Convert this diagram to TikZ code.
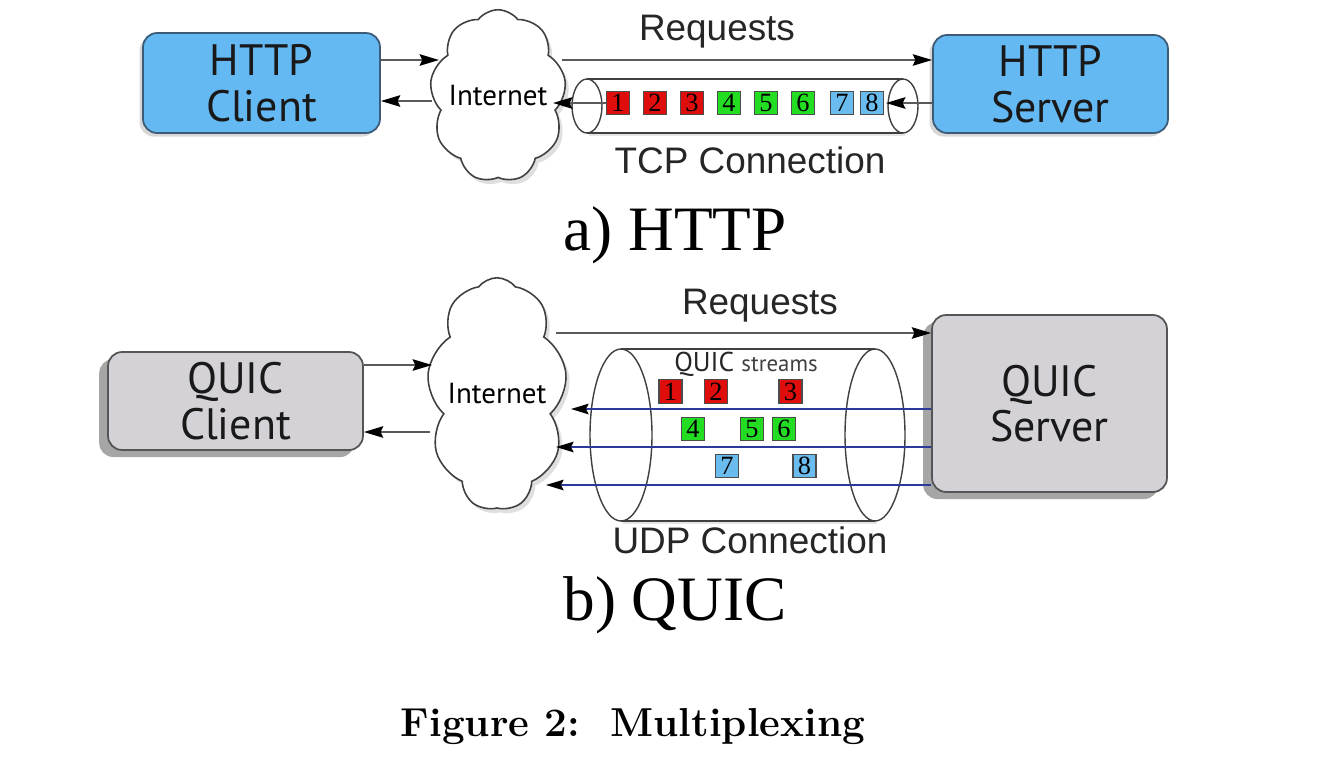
\documentclass[tikz,border=0pt]{standalone}
\usepackage{fontspec}
\usetikzlibrary{shapes.symbols,shapes.geometric,shadows,arrows.meta,calc}
\newfontfamily\boxfont{PT Sans}
\newfontfamily\helv{Liberation Sans}
\newfontfamily\timesf{Liberation Serif}
\definecolor{httpblue}{HTML}{64B9F2}
\definecolor{httpedge}{HTML}{3C5B78}
\definecolor{quicgray}{HTML}{D4D2D7}
\definecolor{quicedge}{HTML}{555555}
\definecolor{pred}{HTML}{E00D0D}
\definecolor{pgreen}{HTML}{22DD22}
\definecolor{pblue}{HTML}{6ABCEF}
\definecolor{streamblue}{HTML}{2A3A9A}
\definecolor{linegray}{HTML}{5A5A5A}
\begin{document}
\begin{tikzpicture}[x=0.02cm,y=-0.02cm,
  boxtext/.style={font=\boxfont\fontsize{25}{26}\selectfont, align=center, text=black!90},
  httpbox/.style={boxtext, draw=httpedge, line width=1pt, fill=httpblue, rounded corners=8pt,
    drop shadow={shadow xshift=-2pt, shadow yshift=-2pt, opacity=0.3}},
  quicbox/.style={boxtext, draw=quicedge, line width=1pt, fill=quicgray, rounded corners=8pt,
    drop shadow={shadow xshift=-5pt, shadow yshift=-4pt, fill=black!35, opacity=1}},
  cloudnode/.style={cloud, cloud puffs=9, cloud puff arc=105, cloud ignores aspect, draw=black!75, line width=0.9pt,
    fill=white, inner sep=0pt, font=\boxfont\fontsize{16.5}{16.5}\selectfont,
    drop shadow={shadow xshift=2pt, shadow yshift=-2.5pt, opacity=0.25}},
  tube/.style={ellipse, draw=black!75, line width=0.8pt, fill=white, inner sep=0pt},
  arr/.style={draw=linegray, line width=1.2pt, -{Stealth[length=11pt, width=6.5pt, inset=1.5pt, color=black]}},
  sarr/.style={draw=streamblue, line width=1pt, -{Stealth[length=10pt, width=6pt, inset=1.5pt, color=black]}},
  lbl/.style={font=\helv\fontsize{21}{21}\selectfont, text=black!85},
  captext/.style={font=\timesf\fontsize{36}{36}\selectfont},
  packet/.style={draw=black!70, line width=0.6pt, minimum width=0.46cm, minimum height=0.47cm,
    inner sep=0pt, font=\timesf\fontsize{15}{15}\selectfont},
  pr/.style={packet, fill=pred},
  pg/.style={packet, fill=pgreen},
  pb/.style={packet, fill=pblue}]
\useasboundingbox[fill=white] (0,0) rectangle (1332,778);

% ---------- a) HTTP ----------
\node[httpbox, minimum width=4.74cm, minimum height=2.0cm] (hc) at (261.5,83) {HTTP\\Client};
\node[httpbox, minimum width=4.7cm, minimum height=1.96cm] (hs) at (1050.5,84) {HTTP\\Server};
\node[cloudnode, minimum width=2.7cm, minimum height=3.45cm] (ca) at (498,96) {Internet};

% TCP tube
\fill[white, drop shadow={shadow xshift=1pt, shadow yshift=-1.5pt, opacity=0.2}] (587,79) rectangle (903,133);
\draw[draw=black!75, line width=0.8pt] (587,79) -- (903,79) (587,133) -- (903,133);
\node[tube, minimum width=0.6cm, minimum height=1.08cm] (tl) at (587,106) {};
\node[tube, minimum width=0.6cm, minimum height=1.08cm] (tr) at (903,106) {};
\node[lbl] (tcp) at (750,160) {TCP Connection};

\node[pr] (t1) at (618,103) {1};
\node[pr] (t2) at (655,103) {2};
\node[pr] (t3) at (692,103) {3};
\node[pg] (t4) at (729,103) {4};
\node[pg] (t5) at (766,103) {5};
\node[pg] (t6) at (803,103) {6};
\node[pb] (t7) at (842,103) {7};
\node[pb] (t8) at (872,103) {8};

\coordinate (ya) at (0,60);
\coordinate (yb) at (0,101);
\coordinate (cain) at (439,60);
\coordinate (caout) at (432,101);
\coordinate (careq) at (562,60);
\coordinate (catcp) at (553,103);
\coordinate (tcpend) at (886,103);
\draw[arr] (hc.east |- ya) -- (cain);
\draw[arr] (caout) -- (hc.east |- yb);
\draw[arr] (careq) -- (hs.west |- ya);
\node[lbl] (reqa) at (717,32) {Requests};
\draw[arr] (hs.west |- t8) -- (tcpend);
\draw[arr] (t1.west) -- (catcp);

\node[captext] (capa) at (675,235) {a) HTTP};

% ---------- b) QUIC ----------
\node[quicbox, minimum width=5.1cm, minimum height=1.96cm] (qc) at (235.5,401) {QUIC\\Client};
\node[quicbox, minimum width=4.7cm, minimum height=3.54cm] (qs) at (1049.5,403.5) {QUIC\\Server};
\node[cloudnode, minimum width=2.8cm, minimum height=4.65cm] (cb) at (497,394) {Internet};

% UDP tube
\fill[white, drop shadow={shadow xshift=1pt, shadow yshift=-1.5pt, opacity=0.2}] (621,349) rectangle (875,521);
\draw[draw=black!75, line width=0.8pt] (621,349) -- (875,349) (621,521) -- (875,521);
\node[tube, minimum width=1.24cm, minimum height=3.44cm] (ul) at (621,435) {};
\node[tube, minimum width=1.2cm, minimum height=3.44cm] (ur) at (875,435) {};
\node[lbl] (udp) at (750,540) {UDP Connection};
\node[font=\boxfont\fontsize{15.5}{15.5}\selectfont, text=black!85] (qstr) at (746,364)
  {QUIC {\fontsize{13}{13}\selectfont\color{black!75}streams}};

\node[pr] (q1) at (670.5,391.5) {1};
\node[pr] (q2) at (716,391.5) {2};
\node[pr] (q3) at (790.5,391.5) {3};
\node[pg] (q4) at (693,429) {4};
\node[pg] (q5) at (752,429) {5};
\node[pg] (q6) at (784,429) {6};
\node[pb] (q7) at (727,466) {7};
\node[pb] (q8) at (804.5,466) {8};

\coordinate (yc) at (0,365);
\coordinate (yd) at (0,432);
\coordinate (ye) at (0,333);
\coordinate (cbin) at (432,365);
\coordinate (cbout) at (430,432);
\coordinate (cbreq) at (556,333);
\coordinate (s1end) at (571,409);
\coordinate (s2end) at (556,447);
\coordinate (s3end) at (546,485);
\coordinate (y1) at (0,409);
\coordinate (y2) at (0,447);
\coordinate (y3) at (0,485);
\draw[arr] (qc.east |- yc) -- (cbin);
\draw[arr] (cbout) -- (qc.east |- yd);
\draw[arr] (cbreq) -- (qs.west |- ye);
\node[lbl] (reqb) at (760,306) {Requests};
\draw[sarr] (qs.west |- y1) -- (s1end);
\draw[sarr] (qs.west |- y2) -- (s2end);
\draw[sarr] (qs.west |- y3) -- (s3end);

\node[captext] (capb) at (675,605) {b) QUIC};

\node[font=\fontsize{23}{23}\selectfont\bfseries] (fig) at (633,727) {Figure 2:\ \ Multiplexing};
\end{tikzpicture}
\end{document}
